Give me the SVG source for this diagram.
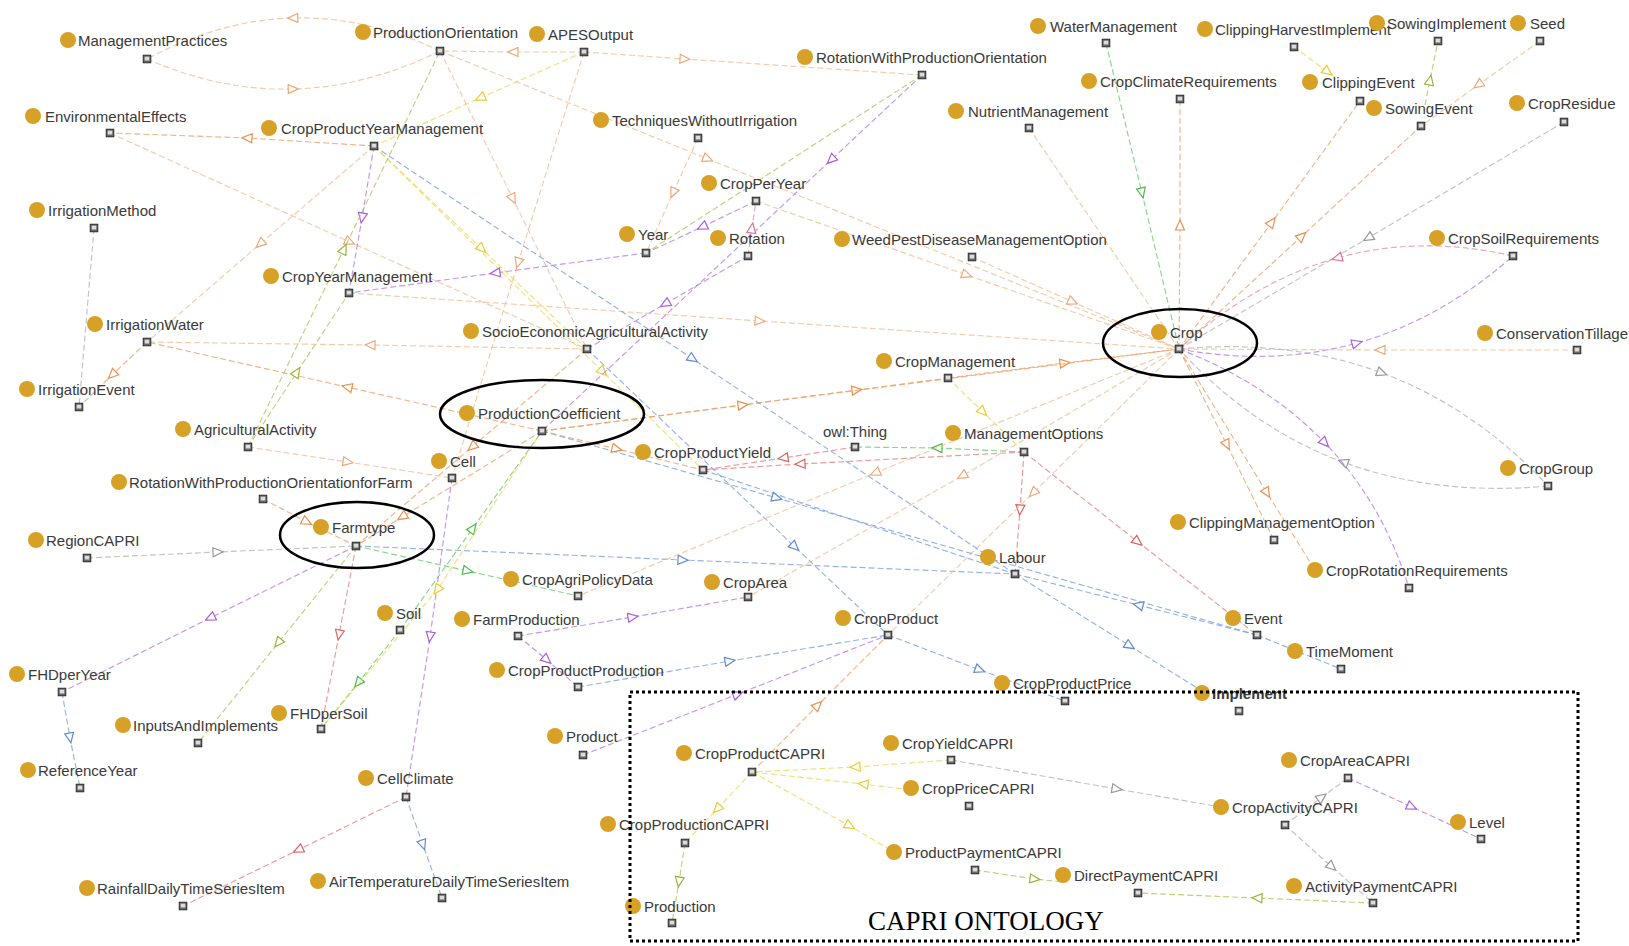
<svg xmlns="http://www.w3.org/2000/svg" xmlns:xlink="http://www.w3.org/1999/xlink" width="1629" height="946" viewBox="0 0 1629 946">
<style>
  text.lb { font-family: "Liberation Sans", Arial, sans-serif; font-size: 15px; fill: #3a3a3a; }
  circle.dot { fill: #d6a126; }
  .e { fill: none; stroke-width: 1.15; stroke-dasharray: 6 3; stroke-opacity: 0.8; }
  .peach  { stroke: #f3bd95; marker-mid: url(#m-peach); }
  .orange { stroke: #eea06a; marker-mid: url(#m-orange); }
  .yellow { stroke: #f2d65a; marker-mid: url(#m-yellow); }
  .purple { stroke: #b97ae6; marker-mid: url(#m-purple); }
  .blue   { stroke: #7aa0dc; marker-mid: url(#m-blue); }
  .green  { stroke: #6ccc6c; marker-mid: url(#m-green); }
  .olive  { stroke: #b2c45e; marker-mid: url(#m-olive); }
  .red    { stroke: #e88080; marker-mid: url(#m-red); }
  .grey   { stroke: #b4b4b4; marker-mid: url(#m-grey); }
  .pink   { stroke: #e890aa; marker-mid: url(#m-pink); }
  .hl { fill: none; stroke: #000; stroke-width: 2.5; }
</style>
<defs>
  <symbol id="ic" viewBox="0 0 9 9" width="9" height="9">
    <rect x="0.5" y="0.5" width="8" height="8" fill="#666" stroke="#222" stroke-width="1"/>
    <rect x="2.2" y="2.2" width="4.6" height="3.8" fill="#dcdcdc"/>
  </symbol>
  <marker id="m-peach" viewBox="0 0 12 11" refX="6" refY="5.5" markerWidth="12" markerHeight="11" markerUnits="userSpaceOnUse" orient="auto"><path d="M1,1 L11,5.5 L1,10 Z" fill="#fff" stroke="#eea878" stroke-width="1.2"/></marker>
  <marker id="m-orange" viewBox="0 0 12 11" refX="6" refY="5.5" markerWidth="12" markerHeight="11" markerUnits="userSpaceOnUse" orient="auto"><path d="M1,1 L11,5.5 L1,10 Z" fill="#fff" stroke="#ea9050" stroke-width="1.2"/></marker>
  <marker id="m-yellow" viewBox="0 0 12 11" refX="6" refY="5.5" markerWidth="12" markerHeight="11" markerUnits="userSpaceOnUse" orient="auto"><path d="M1,1 L11,5.5 L1,10 Z" fill="#fff" stroke="#eecb30" stroke-width="1.2"/></marker>
  <marker id="m-purple" viewBox="0 0 12 11" refX="6" refY="5.5" markerWidth="12" markerHeight="11" markerUnits="userSpaceOnUse" orient="auto"><path d="M1,1 L11,5.5 L1,10 Z" fill="#fff" stroke="#a85ee0" stroke-width="1.2"/></marker>
  <marker id="m-blue" viewBox="0 0 12 11" refX="6" refY="5.5" markerWidth="12" markerHeight="11" markerUnits="userSpaceOnUse" orient="auto"><path d="M1,1 L11,5.5 L1,10 Z" fill="#fff" stroke="#5f8ad4" stroke-width="1.2"/></marker>
  <marker id="m-green" viewBox="0 0 12 11" refX="6" refY="5.5" markerWidth="12" markerHeight="11" markerUnits="userSpaceOnUse" orient="auto"><path d="M1,1 L11,5.5 L1,10 Z" fill="#fff" stroke="#4cbc4c" stroke-width="1.2"/></marker>
  <marker id="m-olive" viewBox="0 0 12 11" refX="6" refY="5.5" markerWidth="12" markerHeight="11" markerUnits="userSpaceOnUse" orient="auto"><path d="M1,1 L11,5.5 L1,10 Z" fill="#fff" stroke="#9ab43c" stroke-width="1.2"/></marker>
  <marker id="m-red" viewBox="0 0 12 11" refX="6" refY="5.5" markerWidth="12" markerHeight="11" markerUnits="userSpaceOnUse" orient="auto"><path d="M1,1 L11,5.5 L1,10 Z" fill="#fff" stroke="#e06060" stroke-width="1.2"/></marker>
  <marker id="m-grey" viewBox="0 0 12 11" refX="6" refY="5.5" markerWidth="12" markerHeight="11" markerUnits="userSpaceOnUse" orient="auto"><path d="M1,1 L11,5.5 L1,10 Z" fill="#fff" stroke="#999" stroke-width="1.2"/></marker>
  <marker id="m-pink" viewBox="0 0 12 11" refX="6" refY="5.5" markerWidth="12" markerHeight="11" markerUnits="userSpaceOnUse" orient="auto"><path d="M1,1 L11,5.5 L1,10 Z" fill="#fff" stroke="#e07090" stroke-width="1.2"/></marker>
</defs>
<rect width="1629" height="946" fill="#fff"/>

<!-- connectors: each path runs source -> arrow point -> target -->
<g id="connectors">
  <path class="e peach" d="M440,51 Q366,16 292.75,18 Q219.5,20 147,59"/>
  <path class="e peach" d="M147,59 Q220,91 293.25,89 Q366.5,87 440,51"/>
  <path class="e peach" d="M584,52 L513,52 L440,51"/>
  <path class="e peach" d="M584,52 L685,59 L922,75"/>
  <path class="e orange" d="M374,146 L247,138 L110,133"/>
  <path class="e peach" d="M110,133 L350,242 L587,349"/>
  <path class="e grey" d="M94,228 L79,407"/>
  <path class="e orange" d="M147,342 L112,375 L79,407"/>
  <path class="e peach" d="M587,349 L370,345 L147,342"/>
  <path class="e orange" d="M542,431 L347,387 L147,342"/>
  <path class="e peach" d="M248,447 L348,462 L452,478"/>
  <path class="e olive" d="M248,447 L297,372 L349,293"/>
  <path class="e peach" d="M374,146 L260,244 L147,342"/>
  <path class="e orange" d="M263,499 L307,522 L356,546"/>
  <path class="e grey" d="M87,558 L218,552 L356,546"/>
  <path class="e purple" d="M356,546 L210,618 L62,692"/>
  <path class="e olive" d="M356,546 L278,643 L198,743"/>
  <path class="e red" d="M356,546 L339,635 L321,729"/>
  <path class="e blue" d="M356,546 L683,560 L1015,574"/>
  <path class="e blue" d="M1257,635 L1138,605 L1015,574"/>
  <path class="e blue" d="M62,692 L70,738 L80,788"/>
  <path class="e red" d="M406,797 L298,850 L183,906"/>
  <path class="e blue" d="M406,797 L423,845 L442,898"/>
  <path class="e green" d="M400,630 L358,683 L321,729"/>
  <path class="e green" d="M400,630 L473,528 L542,431"/>
  <path class="e purple" d="M452,478 L430,637 L406,797"/>
  <path class="e green" d="M356,546 L468,571 L578,596"/>
  <path class="e purple" d="M518,636 L633,617 L748,597"/>
  <path class="e purple" d="M518,636 L547,660 L578,687"/>
  <path class="e blue" d="M578,687 L730,661 L888,635"/>
  <path class="e purple" d="M583,755 L738,694 L888,635"/>
  <path class="e blue" d="M888,635 L980,670 L1065,701"/>
  <path class="e orange" d="M752,772 L818,705 L888,635"/>
  <path class="e yellow" d="M951,760 L855,767 L752,772"/>
  <path class="e yellow" d="M911,790 L863,784 L752,772"/>
  <path class="e yellow" d="M752,772 L850,826 L894,852"/>
  <path class="e yellow" d="M752,772 L717,809 L685,843"/>
  <path class="e olive" d="M685,843 L679,882 L672,923"/>
  <path class="e grey" d="M951,760 L1117,789 L1221,807"/>
  <path class="e olive" d="M975,870 L1035,879 L1062,882"/>
  <path class="e olive" d="M1373,903 L1257,898 L1138,893"/>
  <path class="e grey" d="M1285,825 L1322,797 L1348,778"/>
  <path class="e purple" d="M1348,778 L1412,807 L1481,839"/>
  <path class="e grey" d="M1285,825 L1332,867 L1373,903"/>
  <path class="e blue" d="M1257,635 L1341,669"/>
  <path class="e blue" d="M1015,574 L1130,646 L1202,691"/>
  <path class="e red" d="M1024,452 L1138,542 L1257,635"/>
  <path class="e red" d="M1024,452 L1020,510 L1015,574"/>
  <path class="e green" d="M1024,452 L937,448 L855,447"/>
  <path class="e yellow" d="M948,378 L983,412 L1024,452"/>
  <path class="e orange" d="M948,378 L1065,363 L1179,349"/>
  <path class="e orange" d="M542,431 L857,390 L948,378"/>
  <path class="e orange" d="M542,431 L743,405 L1179,349"/>
  <path class="e peach" d="M440,51 L708,159 L1179,349"/>
  <path class="e peach" d="M756,201 L967,275 L1179,349"/>
  <path class="e peach" d="M972,257 L1073,302 L1179,349"/>
  <path class="e peach" d="M349,293 L760,321 L1179,349"/>
  <path class="e green" d="M1106,43 L1142,193 L1179,349"/>
  <path class="e orange" d="M1179,349 L1180,225 L1180,99"/>
  <path class="e peach" d="M1029,128 L1179,349"/>
  <path class="e orange" d="M1179,349 L1272,222 L1360,101"/>
  <path class="e orange" d="M1179,349 L1302,236 L1421,126"/>
  <path class="e grey" d="M1564,122 L1368,238 L1179,349"/>
  <path class="e pink" d="M1513,256 Q1420.5,234.75 1337,258 Q1253.5,281.25 1179,349"/>
  <path class="e purple" d="M1179,349 Q1273.5,366.25 1357,343 Q1440.5,319.75 1513,256"/>
  <path class="e peach" d="M1577,350 L1380,350 L1179,349"/>
  <path class="e grey" d="M1179,349 Q1289.75,338.75 1382,373 Q1474.25,407.25 1548,486"/>
  <path class="e grey" d="M1548,486 Q1435.25,496.25 1343,462 Q1250.75,427.75 1179,349"/>
  <path class="e purple" d="M1179,349 Q1267.5,383.25 1325,443 Q1382.5,502.75 1409,588"/>
  <path class="e orange" d="M1179,349 L1227,445 L1274,540"/>
  <path class="e orange" d="M1179,349 L1267,493 L1315,570"/>
  <path class="e peach" d="M1179,349 L875,473 L578,596"/>
  <path class="e peach" d="M1179,349 L962,476 L748,597"/>
  <path class="e peach" d="M1179,349 L1033,493 L888,635"/>
  <path class="e red" d="M1024,452 L800,464 L703,470"/>
  <path class="e red" d="M855,447 L783,458 L703,470"/>
  <path class="e blue" d="M374,146 L693,359 L1015,574"/>
  <path class="e blue" d="M587,349 L795,547 L888,635"/>
  <path class="e blue" d="M542,431 L777,498 L1257,635"/>
  <path class="e blue" d="M703,470 L1015,574"/>
  <path class="e orange" d="M542,431 L617,449 L703,470"/>
  <path class="e purple" d="M374,146 L362,218 L349,293"/>
  <path class="e yellow" d="M374,146 L482,249 L587,349"/>
  <path class="e yellow" d="M374,146 L603,372 L703,470"/>
  <path class="e yellow" d="M584,52 L480,98 L374,146"/>
  <path class="e peach" d="M440,51 L513,199 L587,349"/>
  <path class="e peach" d="M584,52 L518,263 L452,478"/>
  <path class="e olive" d="M248,447 L344,249 L440,51"/>
  <path class="e peach" d="M698,138 L673,193 L646,253"/>
  <path class="e purple" d="M756,201 L702,227 L646,253"/>
  <path class="e purple" d="M646,253 L495,273 L349,293"/>
  <path class="e purple" d="M748,256 L665,304 L587,349"/>
  <path class="e purple" d="M922,75 L831,160 L542,431"/>
  <path class="e pink" d="M748,256 L752,228 L756,201"/>
  <path class="e olive" d="M922,75 L646,253"/>
  <path class="e orange" d="M542,431 L402,517 L356,546"/>
  <path class="e orange" d="M587,349 L472,447 L356,546"/>
  <path class="e yellow" d="M542,431 L437,590 L321,729"/>
  <path class="e yellow" d="M1294,47 L1328,72 L1350,88"/>
  <path class="e olive" d="M1425,105 L1430,80 L1438,41"/>
  <path class="e peach" d="M1540,41 L1478,85 L1421,126"/>
</g>

<!-- classes: dot, name, icon -->
<g id="nodes">
  <g id="n-ManagementPractices"><circle class="dot" cx="68" cy="40" r="8"/><text class="lb" x="78" y="45.5">ManagementPractices</text><use href="#ic" x="142.5" y="54.5"/></g>
  <g id="n-ProductionOrientation"><circle class="dot" cx="363" cy="32" r="8"/><text class="lb" x="373" y="37.5">ProductionOrientation</text><use href="#ic" x="435.5" y="46.5"/></g>
  <g id="n-APESOutput"><circle class="dot" cx="537" cy="34" r="8"/><text class="lb" x="548" y="39.5">APESOutput</text><use href="#ic" x="579.5" y="47.5"/></g>
  <g id="n-RotationWithProductionOrientation"><circle class="dot" cx="805" cy="57" r="8"/><text class="lb" x="816" y="62.5">RotationWithProductionOrientation</text><use href="#ic" x="917.5" y="70.5"/></g>
  <g id="n-EnvironmentalEffects"><circle class="dot" cx="33" cy="116" r="8"/><text class="lb" x="45" y="121.5">EnvironmentalEffects</text><use href="#ic" x="105.5" y="128.5"/></g>
  <g id="n-CropProductYearManagement"><circle class="dot" cx="269" cy="128" r="8"/><text class="lb" x="281" y="133.5">CropProductYearManagement</text><use href="#ic" x="369.5" y="141.5"/></g>
  <g id="n-TechniquesWithoutIrrigation"><circle class="dot" cx="601" cy="120" r="8"/><text class="lb" x="612" y="125.5">TechniquesWithoutIrrigation</text><use href="#ic" x="693.5" y="133.5"/></g>
  <g id="n-IrrigationMethod"><circle class="dot" cx="37" cy="210" r="8"/><text class="lb" x="48" y="215.5">IrrigationMethod</text><use href="#ic" x="89.5" y="223.5"/></g>
  <g id="n-CropPerYear"><circle class="dot" cx="709" cy="183" r="8"/><text class="lb" x="720" y="188.5">CropPerYear</text><use href="#ic" x="751.5" y="196.5"/></g>
  <g id="n-Year"><circle class="dot" cx="627" cy="234" r="8"/><text class="lb" x="638" y="239.5">Year</text><use href="#ic" x="641.5" y="248.5"/></g>
  <g id="n-Rotation"><circle class="dot" cx="718" cy="238" r="8"/><text class="lb" x="729" y="243.5">Rotation</text><use href="#ic" x="743.5" y="251.5"/></g>
  <g id="n-WeedPestDiseaseManagementOption"><circle class="dot" cx="842" cy="239" r="8"/><text class="lb" x="852" y="244.5">WeedPestDiseaseManagementOption</text><use href="#ic" x="967.5" y="252.5"/></g>
  <g id="n-CropYearManagement"><circle class="dot" cx="271" cy="276" r="8"/><text class="lb" x="282" y="281.5">CropYearManagement</text><use href="#ic" x="344.5" y="288.5"/></g>
  <g id="n-IrrigationWater"><circle class="dot" cx="95" cy="324" r="8"/><text class="lb" x="106" y="329.5">IrrigationWater</text><use href="#ic" x="142.5" y="337.5"/></g>
  <g id="n-SocioEconomicAgriculturalActivity"><circle class="dot" cx="471" cy="331" r="8"/><text class="lb" x="482" y="336.5">SocioEconomicAgriculturalActivity</text><use href="#ic" x="582.5" y="344.5"/></g>
  <g id="n-IrrigationEvent"><circle class="dot" cx="27" cy="389" r="8"/><text class="lb" x="38" y="394.5">IrrigationEvent</text><use href="#ic" x="74.5" y="402.5"/></g>
  <g id="n-AgriculturalActivity"><circle class="dot" cx="183" cy="429" r="8"/><text class="lb" x="194" y="434.5">AgriculturalActivity</text><use href="#ic" x="243.5" y="442.5"/></g>
  <g id="n-ProductionCoefficient"><circle class="dot" cx="467" cy="413" r="8"/><text class="lb" x="478" y="418.5">ProductionCoefficient</text><use href="#ic" x="537.5" y="426.5"/></g>
  <g id="n-Cell"><circle class="dot" cx="439" cy="461" r="8"/><text class="lb" x="450" y="466.5">Cell</text><use href="#ic" x="447.5" y="473.5"/></g>
  <g id="n-RotationWithProductionOrientationforFarm"><circle class="dot" cx="119" cy="482" r="8"/><text class="lb" x="129" y="487.5">RotationWithProductionOrientationforFarm</text><use href="#ic" x="258.5" y="494.5"/></g>
  <g id="n-Farmtype"><circle class="dot" cx="321" cy="527" r="8"/><text class="lb" x="332" y="532.5">Farmtype</text><use href="#ic" x="351.5" y="541.5"/></g>
  <g id="n-RegionCAPRI"><circle class="dot" cx="36" cy="540" r="8"/><text class="lb" x="46" y="545.5">RegionCAPRI</text><use href="#ic" x="82.5" y="553.5"/></g>
  <g id="n-CropProductYield"><circle class="dot" cx="643" cy="452" r="8"/><text class="lb" x="654" y="457.5">CropProductYield</text><use href="#ic" x="698.5" y="465.5"/></g>
  <g id="n-CropAgriPolicyData"><circle class="dot" cx="511" cy="579" r="8"/><text class="lb" x="522" y="584.5">CropAgriPolicyData</text><use href="#ic" x="573.5" y="591.5"/></g>
  <g id="n-CropArea"><circle class="dot" cx="712" cy="582" r="8"/><text class="lb" x="723" y="587.5">CropArea</text><use href="#ic" x="743.5" y="592.5"/></g>
  <g id="n-Soil"><circle class="dot" cx="385" cy="613" r="8"/><text class="lb" x="396" y="618.5">Soil</text><use href="#ic" x="395.5" y="625.5"/></g>
  <g id="n-FarmProduction"><circle class="dot" cx="462" cy="619" r="8"/><text class="lb" x="473" y="624.5">FarmProduction</text><use href="#ic" x="513.5" y="631.5"/></g>
  <g id="n-FHDperYear"><circle class="dot" cx="17" cy="674" r="8"/><text class="lb" x="28" y="679.5">FHDperYear</text><use href="#ic" x="57.5" y="687.5"/></g>
  <g id="n-InputsAndImplements"><circle class="dot" cx="123" cy="725" r="8"/><text class="lb" x="133" y="730.5">InputsAndImplements</text><use href="#ic" x="193.5" y="738.5"/></g>
  <g id="n-FHDperSoil"><circle class="dot" cx="279" cy="713" r="8"/><text class="lb" x="290" y="718.5">FHDperSoil</text><use href="#ic" x="316.5" y="724.5"/></g>
  <g id="n-ReferenceYear"><circle class="dot" cx="28" cy="770" r="8"/><text class="lb" x="38" y="775.5">ReferenceYear</text><use href="#ic" x="75.5" y="783.5"/></g>
  <g id="n-CellClimate"><circle class="dot" cx="366" cy="778" r="8"/><text class="lb" x="377" y="783.5">CellClimate</text><use href="#ic" x="401.5" y="792.5"/></g>
  <g id="n-RainfallDailyTimeSeriesItem"><circle class="dot" cx="87" cy="888" r="8"/><text class="lb" x="97" y="893.5">RainfallDailyTimeSeriesItem</text><use href="#ic" x="178.5" y="901.5"/></g>
  <g id="n-AirTemperatureDailyTimeSeriesItem"><circle class="dot" cx="318" cy="881" r="8"/><text class="lb" x="329" y="886.5">AirTemperatureDailyTimeSeriesItem</text><use href="#ic" x="437.5" y="893.5"/></g>
  <g id="n-CropProductProduction"><circle class="dot" cx="497" cy="670" r="8"/><text class="lb" x="508" y="675.5">CropProductProduction</text><use href="#ic" x="573.5" y="682.5"/></g>
  <g id="n-Product"><circle class="dot" cx="555" cy="736" r="8"/><text class="lb" x="566" y="741.5">Product</text><use href="#ic" x="578.5" y="750.5"/></g>
  <g id="n-CropManagement"><circle class="dot" cx="884" cy="361" r="8"/><text class="lb" x="895" y="366.5">CropManagement</text><use href="#ic" x="943.5" y="373.5"/></g>
  <g id="n-owlThing"><text class="lb" x="823" y="437">owl:Thing</text><use href="#ic" x="850.5" y="442.5"/></g>
  <g id="n-ManagementOptions"><circle class="dot" cx="953" cy="433" r="8"/><text class="lb" x="964" y="438.5">ManagementOptions</text><use href="#ic" x="1019.5" y="447.5"/></g>
  <g id="n-Labour"><circle class="dot" cx="988" cy="557" r="8"/><text class="lb" x="999" y="562.5">Labour</text><use href="#ic" x="1010.5" y="569.5"/></g>
  <g id="n-CropProduct"><circle class="dot" cx="843" cy="618" r="8"/><text class="lb" x="854" y="623.5">CropProduct</text><use href="#ic" x="883.5" y="630.5"/></g>
  <g id="n-CropProductPrice"><circle class="dot" cx="1002" cy="683" r="8"/><text class="lb" x="1013" y="688.5">CropProductPrice</text><use href="#ic" x="1060.5" y="696.5"/></g>
  <g id="n-Crop"><circle class="dot" cx="1159" cy="332" r="8"/><text class="lb" x="1170" y="337.5">Crop</text><use href="#ic" x="1174.5" y="344.5"/></g>
  <g id="n-WaterManagement"><circle class="dot" cx="1038" cy="26" r="8"/><text class="lb" x="1050" y="31.5">WaterManagement</text><use href="#ic" x="1101.5" y="38.5"/></g>
  <g id="n-CropClimateRequirements"><circle class="dot" cx="1089" cy="81" r="8"/><text class="lb" x="1100" y="86.5">CropClimateRequirements</text><use href="#ic" x="1175.5" y="94.5"/></g>
  <g id="n-NutrientManagement"><circle class="dot" cx="956" cy="111" r="8"/><text class="lb" x="968" y="116.5">NutrientManagement</text><use href="#ic" x="1024.5" y="123.5"/></g>
  <g id="n-ClippingHarvestImplement"><circle class="dot" cx="1205" cy="29" r="8"/><text class="lb" x="1215" y="34.5">ClippingHarvestImplement</text><use href="#ic" x="1289.5" y="42.5"/></g>
  <g id="n-SowingImplement"><circle class="dot" cx="1377" cy="23" r="8"/><text class="lb" x="1387" y="28.5">SowingImplement</text><use href="#ic" x="1433.5" y="36.5"/></g>
  <g id="n-Seed"><circle class="dot" cx="1518" cy="23" r="8"/><text class="lb" x="1530" y="28.5">Seed</text><use href="#ic" x="1535.5" y="36.5"/></g>
  <g id="n-ClippingEvent"><circle class="dot" cx="1310" cy="82" r="8"/><text class="lb" x="1322" y="87.5">ClippingEvent</text><use href="#ic" x="1355.5" y="96.5"/></g>
  <g id="n-SowingEvent"><circle class="dot" cx="1374" cy="108" r="8"/><text class="lb" x="1385" y="113.5">SowingEvent</text><use href="#ic" x="1416.5" y="121.5"/></g>
  <g id="n-CropResidue"><circle class="dot" cx="1517" cy="103" r="8"/><text class="lb" x="1528" y="108.5">CropResidue</text><use href="#ic" x="1559.5" y="117.5"/></g>
  <g id="n-CropSoilRequirements"><circle class="dot" cx="1437" cy="238" r="8"/><text class="lb" x="1448" y="243.5">CropSoilRequirements</text><use href="#ic" x="1508.5" y="251.5"/></g>
  <g id="n-ConservationTillage"><circle class="dot" cx="1485" cy="333" r="8"/><text class="lb" x="1496" y="338.5">ConservationTillage</text><use href="#ic" x="1572.5" y="345.5"/></g>
  <g id="n-CropGroup"><circle class="dot" cx="1508" cy="468" r="8"/><text class="lb" x="1519" y="473.5">CropGroup</text><use href="#ic" x="1543.5" y="481.5"/></g>
  <g id="n-ClippingManagementOption"><circle class="dot" cx="1178" cy="522" r="8"/><text class="lb" x="1189" y="527.5">ClippingManagementOption</text><use href="#ic" x="1269.5" y="535.5"/></g>
  <g id="n-CropRotationRequirements"><circle class="dot" cx="1315" cy="570" r="8"/><text class="lb" x="1326" y="575.5">CropRotationRequirements</text><use href="#ic" x="1404.5" y="583.5"/></g>
  <g id="n-Event"><circle class="dot" cx="1233" cy="618" r="8"/><text class="lb" x="1244" y="623.5">Event</text><use href="#ic" x="1252.5" y="630.5"/></g>
  <g id="n-TimeMoment"><circle class="dot" cx="1295" cy="651" r="8"/><text class="lb" x="1306" y="656.5">TimeMoment</text><use href="#ic" x="1336.5" y="664.5"/></g>
  <g id="n-Implement"><circle class="dot" cx="1202" cy="693" r="8"/><text class="lb" x="1212" y="698.5" font-weight="bold" fill="#222">Implement</text><use href="#ic" x="1234.5" y="706.5"/></g>
  <g id="n-CropProductCAPRI"><circle class="dot" cx="684" cy="753" r="8"/><text class="lb" x="695" y="758.5">CropProductCAPRI</text><use href="#ic" x="747.5" y="767.5"/></g>
  <g id="n-CropYieldCAPRI"><circle class="dot" cx="891" cy="743" r="8"/><text class="lb" x="902" y="748.5">CropYieldCAPRI</text><use href="#ic" x="946.5" y="755.5"/></g>
  <g id="n-CropPriceCAPRI"><circle class="dot" cx="911" cy="788" r="8"/><text class="lb" x="922" y="793.5">CropPriceCAPRI</text><use href="#ic" x="964.5" y="801.5"/></g>
  <g id="n-CropProductionCAPRI"><circle class="dot" cx="608" cy="824" r="8"/><text class="lb" x="619" y="829.5">CropProductionCAPRI</text><use href="#ic" x="680.5" y="838.5"/></g>
  <g id="n-ProductPaymentCAPRI"><circle class="dot" cx="894" cy="852" r="8"/><text class="lb" x="905" y="857.5">ProductPaymentCAPRI</text><use href="#ic" x="970.5" y="865.5"/></g>
  <g id="n-DirectPaymentCAPRI"><circle class="dot" cx="1063" cy="875" r="8"/><text class="lb" x="1074" y="880.5">DirectPaymentCAPRI</text><use href="#ic" x="1133.5" y="888.5"/></g>
  <g id="n-Production"><circle class="dot" cx="633" cy="906" r="8"/><text class="lb" x="644" y="911.5">Production</text><use href="#ic" x="667.5" y="918.5"/></g>
  <g id="n-CropAreaCAPRI"><circle class="dot" cx="1289" cy="760" r="8"/><text class="lb" x="1300" y="765.5">CropAreaCAPRI</text><use href="#ic" x="1343.5" y="773.5"/></g>
  <g id="n-CropActivityCAPRI"><circle class="dot" cx="1221" cy="807" r="8"/><text class="lb" x="1232" y="812.5">CropActivityCAPRI</text><use href="#ic" x="1280.5" y="820.5"/></g>
  <g id="n-Level"><circle class="dot" cx="1458" cy="822" r="8"/><text class="lb" x="1469" y="827.5">Level</text><use href="#ic" x="1476.5" y="834.5"/></g>
  <g id="n-ActivityPaymentCAPRI"><circle class="dot" cx="1294" cy="886" r="8"/><text class="lb" x="1305" y="891.5">ActivityPaymentCAPRI</text><use href="#ic" x="1368.5" y="898.5"/></g>
</g>

<!-- highlight rings and the CAPRI frame -->
<g id="highlights">
  <ellipse class="hl" cx="1180" cy="343" rx="77" ry="34"/>
  <ellipse class="hl" cx="542" cy="414" rx="102" ry="34"/>
  <ellipse class="hl" cx="357" cy="535" rx="77" ry="33"/>
  <rect x="630" y="692" width="948" height="249" fill="none" stroke="#000" stroke-width="3" stroke-dasharray="3 3"/>
  <text x="868" y="930" font-family="'Liberation Serif', 'Times New Roman', serif" font-size="27" fill="#000">CAPRI ONTOLOGY</text>
</g>
</svg>
